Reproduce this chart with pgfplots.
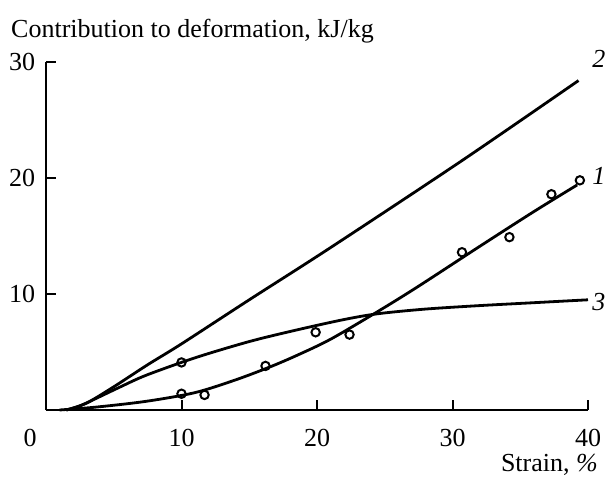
\documentclass[border=0pt]{standalone}
\usepackage{fontspec}
\setmainfont{Liberation Serif}
\usepackage{pgfplots}
\pgfplotsset{compat=1.18}
\begin{document}
\fontsize{26bp}{30bp}\selectfont
\begin{tikzpicture}
\path[use as bounding box] (-46bp,-69bp) rectangle (559bp,410bp);
\begin{axis}[
  scale only axis,
  width=542bp, height=348bp,
  xmin=0, xmax=40, ymin=0, ymax=30,
  axis x line*=bottom, axis y line*=left,
  axis line style={line width=2bp},
  xtick={10,20,30,40}, ytick={10,20,30},
  tick align=inside,
  major tick length=10bp,
  tick style={line width=2bp, black},
  /pgf/number format/assume math mode=true,
  ticklabel style={font=\fontsize{26bp}{30bp}\selectfont},
  xticklabel style={yshift=-10bp},
  yticklabel style={xshift=-2bp},
  clip=false,
]
\addplot[black, line width=2.8bp, smooth, tension=0.5] coordinates {
(1.5,0)(3,0.6)(5,2.0)(7.5,3.9)(10,5.7)(15,9.5)(21,14.0)(30.7,21.5)(39.3,28.4)};
\addplot[black, line width=2.8bp, smooth, tension=0.5] coordinates {
(1,0)(3.7,0.25)(7.4,0.75)(11,1.5)(14,2.6)(16.5,3.7)(18.5,4.7)(21,6.1)(24.5,8.5)(27.4,10.6)(32,14.1)(36,17.1)(39.2,19.4)};
\addplot[black, line width=2.8bp, smooth, tension=0.5] coordinates {
(1.5,0)(2.5,0.35)(3.7,1.0)(5.5,2.0)(7.4,3.0)(11,4.5)(15,5.9)(18.5,6.9)(22,7.8)(24.5,8.3)(28,8.7)(32,9.0)(36,9.25)(40,9.5)};
\addplot[only marks, mark=o, mark size=4.2bp, black, line width=2bp, mark options={fill=white}] coordinates {
(10.0,4.1)(10.0,1.4)(11.7,1.3)(16.2,3.8)(19.9,6.7)(22.4,6.5)(30.7,13.6)(34.2,14.9)(37.3,18.6)(39.4,19.8)};
\node[anchor=north] at (axis cs:0,0) [xshift=-16bp, yshift=-10bp] {0};
\node[anchor=west, inner sep=0pt, font=\itshape] at (axis cs:40.3,30.3) {2};
\node[anchor=west, inner sep=0pt, font=\itshape] at (axis cs:40.3,20.2) {1};
\node[anchor=west, inner sep=0pt, font=\itshape] at (axis cs:40.3,9.3) {3};
\end{axis}
\node[anchor=base west, inner sep=0pt] at (-35bp,372bp) {Contribution to deformation, kJ/kg};
\node[anchor=base east, inner sep=0pt] at (552bp,-61bp) {Strain, \textit{\%}};
\end{tikzpicture}
\end{document}
